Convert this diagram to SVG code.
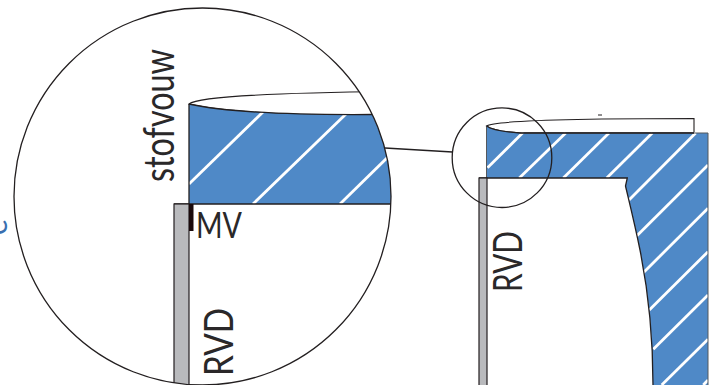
<svg xmlns="http://www.w3.org/2000/svg" width="718" height="385" viewBox="0 0 718 385">
<style>
.blue{fill:#4f89c7;stroke:none}
.hatch{stroke:#fff;stroke-width:2.8;fill:none}
.line{stroke:#231f20;stroke-width:1.3;fill:none}
.thin{stroke:#231f20;stroke-width:1.1;fill:#fff}
.grey{fill:#b9babd;stroke:#231f20;stroke-width:1.2}
.lbl{font-family:"Lato","Liberation Sans",sans-serif;fill:#2a2829;font-weight:400}
</style>
<defs>
<clipPath id="bigClip"><circle cx="202.5" cy="196.5" r="188.5"/></clipPath>
</defs>
<rect width="718" height="385" fill="#fff"/>
<text transform="translate(6.5,235) rotate(-90)" font-family="Lato,'Liberation Sans',sans-serif" font-size="30" fill="#3a6fb0">e</text>
<g id="detail-large">
<g clip-path="url(#bigClip)">
<path class="thin" d="M189 104C196 98 250 93 395 91.500V116H372C300 115 230 113 189 104Z"/>
<path class="blue" d="M189 104C230 113 300 115 372 114.500L400 114V204H189Z"/>
<g class="hatch">
<path d="M189 184L263 112"/>
<path d="M253 204L346 114"/>
<path d="M340 204L392 153"/>
</g>
<path class="line" d="M189 104V204M189 104C230 113 300 115 372 114.500M174 204H392"/>
<rect class="grey" x="174" y="204" width="15" height="185"/>
<rect x="189" y="204" width="4.500" height="27" fill="#1a0a0c"/>
</g>
<circle class="line" cx="202.500" cy="196.500" r="188.500"/>
<text id="t-stofvouw" class="lbl" transform="translate(173.500,182) rotate(-90)" font-size="42" textLength="133" lengthAdjust="spacingAndGlyphs">stofvouw</text>
<text id="t-mv" class="lbl" x="196" y="238" font-size="37" textLength="46" lengthAdjust="spacingAndGlyphs">MV</text>
<text id="t-rvd1" class="lbl" transform="translate(232.500,376) rotate(-90)" font-size="41" textLength="68" lengthAdjust="spacingAndGlyphs">RVD</text>
</g>
<g id="detail-full">
<path class="thin" d="M486.500 126C495 120 600 118.500 694 118.500V133H520C505 132 492 130 486.500 126Z"/>
<path d="M598 115h4" stroke="#231f20" stroke-width="1"/>
<path class="blue" d="M486.500 126C492 130 505 132 520 133H708V385H653C653 345 650 300 640 250C635 225 630 205 625.500 186L627.300 178H486.500Z"/>
<g class="hatch">
<path d="M487.500 167.700L523.300 132.300"/>
<path d="M519.300 178L565.700 133"/>
<path d="M563.300 178L609 133"/>
<path d="M606.700 178L652.300 133"/>
<path d="M629 200L695.700 133"/>
<path d="M636.700 236L708 165"/>
<path d="M643.300 272.700L708 208.300"/>
<path d="M649.300 310L708 251.700"/>
<path d="M653.300 349.300L708 295"/>
<path d="M661.700 385L708 339.300"/>
<path d="M703.300 385L708 380"/>
</g>
<path d="M520 133H708V385M486.500 126V178" stroke="#55585c" stroke-width="1" fill="none"/>
<path class="line" d="M486.500 126C492 130 505 132 520 133H694"/>
<path class="line" d="M479 178H627.300L625.500 186C630 205 635 225 640 250C650 300 653 345 653 385"/>
<rect class="grey" x="479" y="178" width="8" height="210"/>
<text id="t-rvd2" class="lbl" transform="translate(522,292) rotate(-90)" font-size="40" textLength="61" lengthAdjust="spacingAndGlyphs">RVD</text>
</g>
<g id="connectors">
<circle class="line" cx="502" cy="157.700" r="49.800"/>
<path class="line" d="M385 148L452.500 152"/>
</g>
</svg>
